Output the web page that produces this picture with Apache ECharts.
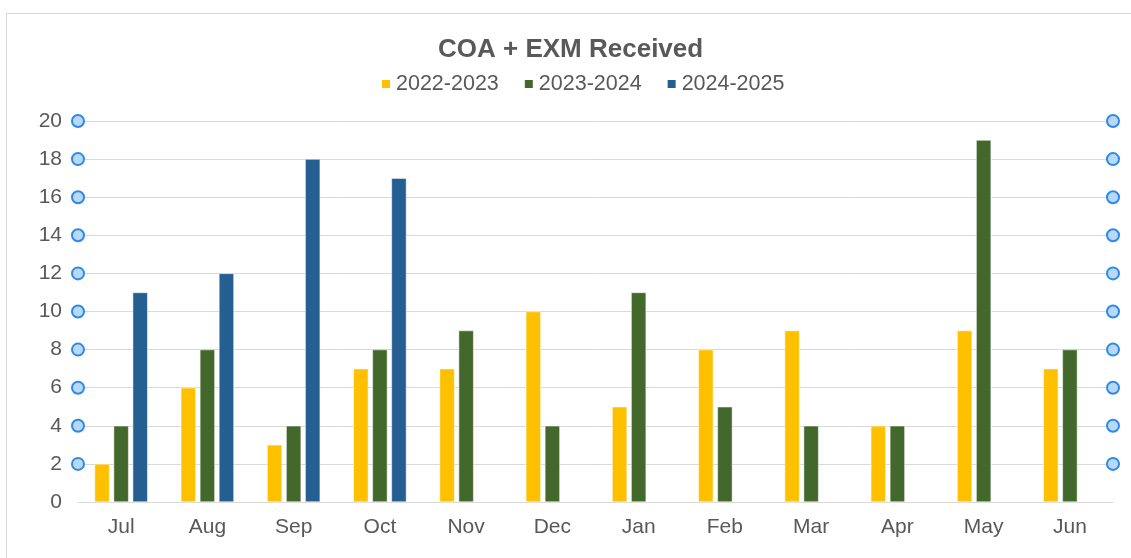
<!DOCTYPE html>
<html lang="en">
<head>
    <meta charset="UTF-8">
    <title>COA + EXM Received</title>
    <script src="https://cdn.jsdelivr.net/npm/echarts@6/dist/echarts.min.js"></script>
    <style>
        body { margin: 0; background: #fff; overflow: hidden; }
        #wrap { position: relative; width: 1131px; height: 558px; overflow: hidden; }
        #frame { position: absolute; left: 6px; top: 13px; width: 1200px; height: 600px; border: 1px solid #d9d9d9; }
        #main { position: absolute; left: 0; top: 0; width: 1131px; height: 558px; }
    </style>
</head>
<body>
    <div id="wrap">
        <div id="frame"></div>
        <div id="main"></div>
    </div>
    <script type="text/javascript">
        var months = ['Jul', 'Aug', 'Sep', 'Oct', 'Nov', 'Dec', 'Jan', 'Feb', 'Mar', 'Apr', 'May', 'Jun'];
        var fy2223 = [2, 6, 3, 7, 7, 10, 5, 8, 9, 4, 9, 7];
        var fy2324 = [4, 8, 4, 8, 9, 4, 11, 5, 4, 4, 19, 8];
        var fy2425 = [11, 12, 18, 17, null, null, null, null, null, null, null, null];
        // gridline handles (the little blue circles at both ends)
        var handleTicks = [2, 4, 6, 8, 10, 12, 14, 16, 18, 20];

        var handles = [];
        handleTicks.forEach(function (v) {
            handles.push([0, v]);
            handles.push([1, v]);
        });

        var myChart = echarts.init(document.getElementById('main'));
        var option = {
            animation: false,
            textStyle: { fontFamily: 'Liberation Sans, Arial, sans-serif' },
            title: {
                text: 'COA + EXM Received',
                left: 433,
                top: 32,
                textStyle: { fontSize: 26, fontWeight: 'bold', color: '#595959' }
            },
            legend: {
                top: 68,
                left: 375,
                itemWidth: 10,
                itemHeight: 10,
                itemGap: 24,
                icon: 'rect',
                textStyle: { fontSize: 21.5, color: '#595959' },
                data: ['2022-2023', '2023-2024', '2024-2025']
            },
            grid: { left: 78, right: 18, top: 121, bottom: 56 },
            xAxis: [
                {
                    type: 'category',
                    data: months,
                    axisLine: { lineStyle: { color: '#d9d9d9' } },
                    axisTick: { show: false },
                    axisLabel: { fontSize: 21, color: '#595959', margin: 15 }
                },
                {
                    type: 'value', min: 0, max: 1, show: false
                }
            ],
            yAxis: {
                type: 'value',
                min: 0,
                max: 20,
                interval: 2,
                axisLine: { show: false },
                axisTick: { show: false },
                splitLine: { lineStyle: { color: '#d9d9d9' } },
                axisLabel: { fontSize: 21, color: '#595959', margin: 16 }
            },
            series: [
                {
                    name: '2022-2023', type: 'bar', data: fy2223,
                    barWidth: 15, barGap: '27%',
                    itemStyle: { color: '#ffc000', borderColor: '#ffffff', borderWidth: 0.5 }
                },
                {
                    name: '2023-2024', type: 'bar', data: fy2324,
                    barWidth: 15, barGap: '27%',
                    itemStyle: { color: '#43682b', borderColor: '#ffffff', borderWidth: 0.5 }
                },
                {
                    name: '2024-2025', type: 'bar', data: fy2425,
                    barWidth: 15, barGap: '27%',
                    itemStyle: { color: '#255e91', borderColor: '#ffffff', borderWidth: 0.5 }
                },
                {
                    type: 'scatter',
                    xAxisIndex: 1,
                    data: handles,
                    symbol: 'circle',
                    symbolSize: 12,
                    clip: false,
                    silent: true,
                    z: 5,
                    itemStyle: { color: '#b8d8f8', borderColor: '#2e8ae6', borderWidth: 2, opacity: 1 }
                }
            ]
        };
        myChart.setOption(option);
    </script>
</body>
</html>
